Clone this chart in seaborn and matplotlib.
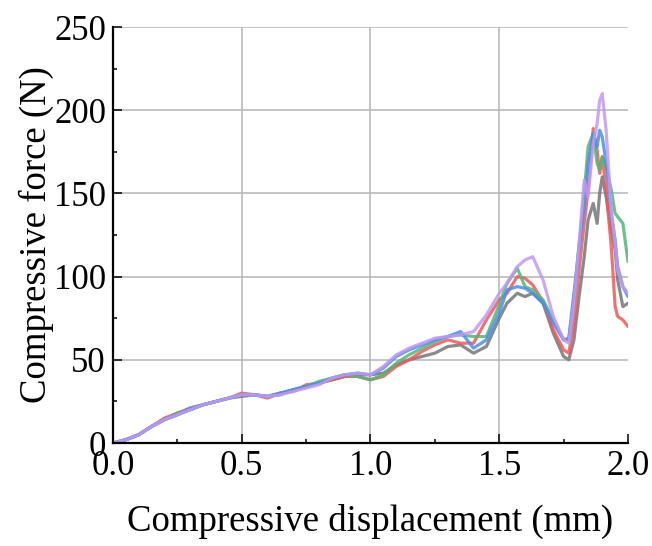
import numpy as np
import pandas as pd
import seaborn as sns
from matplotlib import pyplot as plt
from matplotlib.ticker import MultipleLocator

# displacement (mm), shared by all specimens
X = [0.00, 0.05, 0.10, 0.15, 0.20, 0.25, 0.30, 0.35, 0.40, 0.45,
     0.50, 0.55, 0.60, 0.65, 0.70, 0.75, 0.80, 0.85, 0.90, 0.95,
     1.00, 1.05, 1.10, 1.15, 1.20, 1.25, 1.30, 1.35, 1.40, 1.45,
     1.50, 1.53, 1.57, 1.60, 1.63, 1.67, 1.71, 1.75, 1.77, 1.79,
     1.81, 1.83, 1.845, 1.865, 1.88, 1.89, 1.90, 1.915, 1.935, 1.95,
     1.96, 1.98, 2.00]

GRAY = [0, 2, 5, 10, 14, 17, 20, 23, 25, 27,
        28, 29, 28, 30, 32, 34, 36, 38, 40, 41,
        41, 42, 47, 50, 52, 54, 58, 59, 54, 58,
        75, 84, 90, 88, 90, 84, 66, 52, 50, 62,
        88, 112, 134, 144, 132, 150, 160, 148, 128, 116,
        98, 82, 84]
RED = [0, 2, 5, 10, 15, 18, 21, 23, 25, 27,
       30, 29, 27, 30, 31, 35, 36, 38, 40, 40,
       38, 40, 46, 50, 55, 59, 62, 60, 60, 74,
       86, 90, 100, 99, 95, 85, 68, 56, 54, 72,
       104, 132, 152, 189, 176, 162, 172, 152, 118, 82,
       76, 74, 70]
GREEN = [0, 2, 5, 10, 14, 18, 20, 23, 25, 27,
         29, 29, 28, 29, 32, 34, 37, 39, 41, 40,
         38, 41, 48, 53, 57, 61, 64, 65, 64, 64,
         83, 96, 105, 94, 92, 86, 74, 62, 62, 86,
         118, 150, 178, 186, 168, 164, 172, 166, 152, 138,
         136, 132, 109]
BLUE = [0, 2, 5, 10, 14, 17, 21, 23, 25, 27,
        29, 29, 28, 30, 32, 34, 36, 39, 41, 42,
        41, 45, 52, 56, 59, 62, 64, 67, 57, 62,
        78, 92, 94, 93, 90, 84, 72, 62, 63, 90,
        118, 142, 168, 186, 178, 188, 184, 168, 138, 122,
        106, 94, 88]
PURPLE = [0, 2, 5, 10, 14, 17, 20, 23, 25, 27,
          29, 29, 28, 29, 31, 33, 35, 39, 41, 42,
          41, 46, 53, 57, 60, 63, 64, 65, 67, 77,
          90, 96, 106, 110, 112, 98, 76, 62, 60, 85,
          120, 158, 148, 180, 192, 206, 210, 188, 140, 120,
          104, 94, 90]

SPECIMENS = ["S1", "S2", "S3", "S4", "S5"]
COLORS = ["#767676", "#ee5a5a", "#55b577", "#4a8fe8", "#c398f2"]

frames = []
for name, vals in zip(SPECIMENS, [GRAY, RED, GREEN, BLUE, PURPLE]):
    frames.append(pd.DataFrame({"disp": X, "force": vals, "specimen": name}))
df = pd.concat(frames, ignore_index=True)

sns.set_theme(style="white")
plt.rcParams['font.family'] = ['Liberation Serif', 'DejaVu Serif']
plt.rcParams['text.color'] = 'black'
plt.rcParams['axes.labelcolor'] = 'black'

fig = plt.figure(figsize=(6.52, 5.46), dpi=100)
ax = fig.add_axes([0.1733, 0.1886, 0.7899, 0.7619])

sns.lineplot(data=df, x="disp", y="force", hue="specimen", palette=COLORS,
             estimator=None, sort=False, linewidth=2.3, alpha=0.85,
             legend=False, ax=ax)

ax.set_xlim(0, 2.0)
ax.set_ylim(0, 250)
ax.xaxis.set_minor_locator(MultipleLocator(0.25))
ax.yaxis.set_major_locator(MultipleLocator(50))
ax.yaxis.set_minor_locator(MultipleLocator(25))
ax.set_xticks([0, 0.5, 1.0, 1.5, 2.0])
ax.set_xticklabels(["0.0", "0.5", "1.0", "1.5", "2.0"])

ax.grid(True, which="major", color="#b4b4b4", linewidth=1.1)
for gl in ax.get_xgridlines()[:1] + ax.get_xgridlines()[-1:]:
    gl.set_visible(False)
for gl in ax.get_ygridlines()[:1] + ax.get_ygridlines()[-1:]:
    gl.set_visible(False)

for side in ["top", "right"]:
    ax.spines[side].set_visible(False)
for side in ["left", "bottom"]:
    ax.spines[side].set_color("black")
    ax.spines[side].set_linewidth(1.6)

ax.tick_params(which="major", direction="in", length=6.5, width=1.1,
               colors="black", labelsize=25, pad=5, bottom=True, left=True)
ax.tick_params(which="minor", direction="in", length=3.2, width=1.1,
               colors="black", bottom=True, left=True)

ax.set_xlabel("Compressive displacement (mm)", fontsize=26.5, labelpad=15)
ax.set_ylabel("Compressive force (N)", fontsize=26.5, labelpad=0)

fig.savefig("out.png", dpi=100, facecolor="white")
